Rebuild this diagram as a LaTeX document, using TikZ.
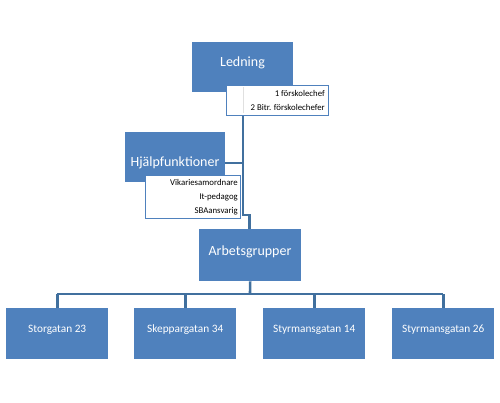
\documentclass[tikz,border=0pt]{standalone}
\usepackage{fontspec}
\setmainfont{Carlito}
\definecolor{boxblue}{HTML}{4F81BD}
\definecolor{lineblue}{HTML}{41709E}
\begin{document}
\begin{tikzpicture}[x=1pt,y=-1pt,
  mainbox/.style={fill=boxblue,draw=none,inner sep=0pt,text=white,font=\fontsize{14}{16}\selectfont},
  leafbox/.style={fill=boxblue,draw=none,minimum width=102pt,minimum height=51pt,inner sep=0pt,text=white,font=\fontsize{10.5}{12}\selectfont},
  subbox/.style={fill=white,draw=boxblue,line width=1.3pt,inner sep=0pt},
  subtext/.style={font=\fontsize{8.8}{10}\selectfont,anchor=east,inner sep=0pt},
  leaftext/.style={text=white,font=\fontsize{11.3}{13}\selectfont,inner sep=0pt},
  conn/.style={draw=lineblue,line width=2.6pt}]
\useasboundingbox (0,0) rectangle (500,402);
% Ledning
\node[mainbox,minimum width=101pt,minimum height=50pt,anchor=north west] (led) at (192,42) {};
\node[text=white,font=\fontsize{14}{16}\selectfont,inner sep=0pt] (ledt) at (242.5,63) {Ledning};
% Hjalp
\node[mainbox,minimum width=100pt,minimum height=50pt,anchor=north west] (hj) at (125,132) {};
\node[text=white,font=\fontsize{14}{16}\selectfont,inner sep=0pt] (hjt) at (175,163) {Hjälpfunktioner};
% Arbetsgrupper
\node[mainbox,minimum width=102pt,minimum height=52pt,anchor=north west] (ab) at (199,229) {};
\node[text=white,font=\fontsize{14}{16}\selectfont,inner sep=0pt] (abt) at (250,252) {Arbetsgrupper};
% connectors
\coordinate (j1) at (243,215);
\coordinate (j2) at (249.5,215);
\draw[conn] (led.south -| 243,0) -- (j1) -- (j2) -- (j2 |- ab.north);
\draw[conn] (hj.east |- 0,163) -- (243,163);
% Ledning sub box
\node[subbox,minimum width=102pt,minimum height=30pt,anchor=north west] (ls) at (226,85) {};
\draw[black!12,line width=0.6pt] (243,87) -- (243,113);
\node[subtext] (l1) at (325,93) {1 förskolechef};
\node[subtext] (l2) at (325,107) {2 Bitr. förskolechefer};
% Hjalp sub box
\node[subbox,minimum width=95pt,minimum height=43pt,anchor=north west] (hs) at (145,175) {};
\node[subtext] (h1) at (238,182.5) {Vikariesamordnare};
\node[subtext] (h2) at (238,197) {It-pedagog};
\node[subtext] (h3) at (238,211) {SBAansvarig};
% bottom
\node[leafbox,anchor=north west] (b1) at (6,308) {};
\node[leafbox,anchor=north west] (b2) at (134,308) {};
\node[leafbox,anchor=north west] (b3) at (263,308) {};
\node[leafbox,anchor=north west] (b4) at (392,308) {};
\node[leaftext] at (b1.center |- 0,330) {Storgatan 23};
\node[leaftext] at (b2.center |- 0,330) {Skeppargatan 34};
\node[leaftext] at (b3.center |- 0,330) {Styrmansgatan 14};
\node[leaftext] at (b4.center |- 0,330) {Styrmansgatan 26};
\coordinate (bus) at (250,294);
\draw[conn] (ab.south) -- (bus);
\draw[conn] (b1.north |- bus) -- (b4.north |- bus);
\foreach \b in {b1,b2,b3,b4} \draw[conn] (\b.north |- bus) -- (\b.north);
\end{tikzpicture}
\end{document}
